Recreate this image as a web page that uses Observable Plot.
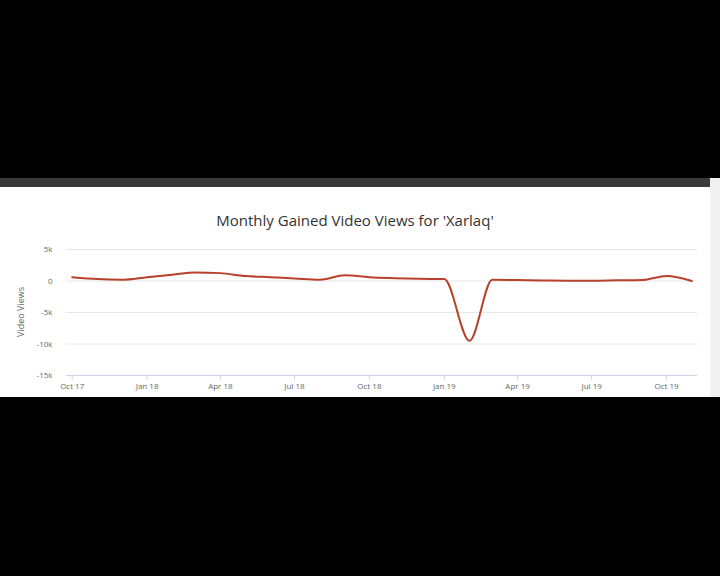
<!DOCTYPE html>
<html>
<head>
<meta charset="utf-8">
<script src="https://cdn.jsdelivr.net/npm/d3@7"></script>
<script src="https://cdn.jsdelivr.net/npm/@observablehq/plot@0.6"></script>
<style>
  html, body { margin: 0; padding: 0; width: 720px; height: 576px; background: #000; overflow: hidden; font-family: "Open Sans", "DejaVu Sans", sans-serif; }
  #topbar { position: absolute; left: 0; top: 178px; width: 710px; height: 9px; background: #3a3a3a; }
  #panel { position: absolute; left: 0; top: 187px; width: 710px; height: 210px; background: #fff; }
  #scroll { position: absolute; left: 710px; top: 178px; width: 10px; height: 219px; background: #f1f1f1; }
  #title { position: absolute; left: 0; top: 210px; width: 710px; text-align: center; font-size: 15px; color: #333; }
  #ylabel { position: absolute; left: 20px; top: 312px; transform: translate(-50%, -50%) rotate(-90deg); font-size: 9px; color: #666; white-space: nowrap; }
  #chart { position: absolute; left: 0; top: 235px; }
</style>
</head>
<body>
<div id="topbar"></div>
<div id="panel"></div>
<div id="scroll"></div>
<div id="title">Monthly Gained Video Views for 'Xarlaq'</div>
<div id="ylabel">Video Views</div>
<div id="chart"></div>
<script>
const months = ["2017-10","2017-11","2017-12","2018-01","2018-02","2018-03","2018-04","2018-05","2018-06","2018-07","2018-08","2018-09","2018-10","2018-11","2018-12","2019-01","2019-02","2019-03","2019-04","2019-05","2019-06","2019-07","2019-08","2019-09","2019-10","2019-11"];
const views = [600, 300, 200, 600, 1000, 1350, 1250, 800, 600, 400, 200, 900, 600, 450, 350, 300, -9500, 200, 150, 80, 50, 50, 100, 150, 800, 0];
const yTicks = [5000, 0, -5000, -10000, -15000];
const yTickLabels = ["5k", "0", "-5k", "-10k", "-15k"];
const xTicks = ["2017-10","2018-01","2018-04","2018-07","2018-10","2019-01","2019-04","2019-07","2019-10"];

const data = months.map((m, i) => ({date: new Date(m + "-01T00:00:00Z"), value: views[i]}));
const xTickDates = xTicks.map(m => new Date(m + "-01T00:00:00Z"));
const fmt = d3.utcFormat("%b %y");

const chart = Plot.plot({
  width: 720,
  height: 165,
  marginTop: 14,
  marginBottom: 25,
  marginLeft: 66,
  marginRight: 23,
  style: {background: "transparent", fontFamily: "'Open Sans', 'DejaVu Sans', sans-serif"},
  x: {type: "utc", domain: [new Date("2017-09-24T00:00:00Z"), new Date("2019-11-08T00:00:00Z")]},
  y: {domain: [-15000, 5000]},
  marks: [
    Plot.ruleY(yTicks.filter(v => v !== -15000), {stroke: "#e6e6e6", strokeWidth: 1}),
    Plot.ruleY([-15000], {stroke: "#ccd6eb", strokeWidth: 1}),
    Plot.axisY({ticks: yTicks, tickSize: 0, tickPadding: 14, tickFormat: v => yTickLabels[yTicks.indexOf(v)], fontSize: 8, color: "#666", label: null}),
    Plot.axisX({ticks: xTickDates, tickSize: 5, stroke: "#ccd6eb", tickPadding: 3, tickFormat: fmt, fontSize: 8, color: "#666", label: null}),
    Plot.line(data, {x: "date", y: "value", stroke: "#b8412c", strokeWidth: 2, curve: "monotone-x"})
  ]
});
document.getElementById("chart").appendChild(chart);
</script>
</body>
</html>
